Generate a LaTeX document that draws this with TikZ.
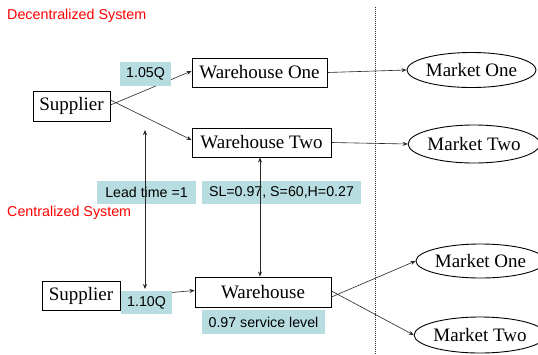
\documentclass[tikz,border=0pt]{standalone}
\usepackage{fontspec}
\setmainfont{Liberation Serif}
\newfontfamily\arial{Liberation Sans}
\usetikzlibrary{shapes.geometric,arrows.meta}
\definecolor{lbl}{RGB}{183,221,224}
\definecolor{redt}{RGB}{255,0,0}
\begin{document}
\begin{tikzpicture}[x=1pt,y=-1pt,
  box/.style={draw=black,line width=0.9pt,inner sep=0pt,font=\fontsize{19}{21}\selectfont},
  mkt/.style={ellipse,draw=black,line width=0.9pt,inner sep=0pt,font=\fontsize{19}{21}\selectfont},
  lab/.style={fill=lbl,inner sep=0pt,font=\arial\fontsize{14.2}{16}\selectfont},
  ttl/.style={text=redt,inner sep=0pt,anchor=west,font=\arial\fontsize{14.3}{16}\selectfont},
  arr/.style={draw=black!85,line width=0.6pt,-{Stealth[length=5pt,width=4pt]}},
  darr/.style={draw=black!85,line width=0.6pt,{Stealth[length=5pt,width=4pt]}-{Stealth[length=5pt,width=4pt]}}
]
\useasboundingbox (0,0) rectangle (538,354);
\fill[white] (0,0) rectangle (538,354);
% titles
\node[ttl] (t1) at (7,16) {Decentralized System};
\node[ttl] (t2) at (7,213) {Centralized System};
% dotted divider
\coordinate (d1) at (375,7);
\coordinate (d2) at (375,354);
\draw[black!80,line width=1pt,dash pattern=on 1pt off 1pt] (d1) -- (d2);
% decentralized nodes
\node[box,minimum width=77pt,minimum height=30pt] (s1) at (71.5,106) {Supplier};
\node[box,minimum width=135pt,minimum height=29pt] (w1) at (259.5,72.5) {Warehouse One};
\node[box,minimum width=139pt,minimum height=29pt] (w2) at (261.5,142.5) {Warehouse Two};
\node[mkt,minimum width=117pt,minimum height=35pt] (m1) at (471.5,70) {Market One};
\node[mkt,minimum width=116pt,minimum height=38pt] (m2) at (474,144) {Market Two};
% centralized nodes
\node[box,minimum width=78pt,minimum height=29pt] (s2) at (81,295.5) {Supplier};
\node[box,minimum width=136pt,minimum height=30pt] (w3) at (263,292) {Warehouse};
\node[mkt,minimum width=114pt,minimum height=34pt] (m3) at (480.5,261) {Market One};
\node[mkt,minimum width=115pt,minimum height=36pt] (m4) at (480,335) {Market Two};
% connectors
\draw[arr] ([yshift=1pt]s1.east) -- ([yshift=1.5pt]w1.west);
\draw[arr] ([yshift=6pt]s1.east) -- ([yshift=2.5pt]w2.west);
\draw[arr] (w1.east) -- (m1.west);
\draw[arr] (w2.east) -- (m2.west);
\draw[arr] ([yshift=-1.5pt]s2.east) -- ([yshift=1.5pt]w3.west);
\draw[arr] ([yshift=-5pt]w3.east) -- (m3.west);
\draw[arr] ([yshift=1pt]w3.east) -- (m4.west);
% labels
\node[lab,minimum width=51pt,minimum height=24pt] (q1) at (145.5,74) {1.05Q};
\node[lab,minimum width=99pt,minimum height=23pt] (lt) at (146.5,192.5) {Lead time =1};
\node[lab,minimum width=159pt,minimum height=23pt] (sl) at (281.5,192.5) {SL=0.97, S=60,H=0.27};
\node[lab,minimum width=51pt,minimum height=23pt] (q2) at (146.5,302.5) {1.10Q};
\node[lab,minimum width=123pt,minimum height=24pt] (sv) at (263.5,322) {0.97 service level};
% vertical arrows
\coordinate (la) at (145,130);
\coordinate (lb) at (145,289);
\draw[darr] (la) -- (lb);
\draw[darr] (w2.south -| 260,0) -- (w3.north -| 260,0);
\end{tikzpicture}
\end{document}
